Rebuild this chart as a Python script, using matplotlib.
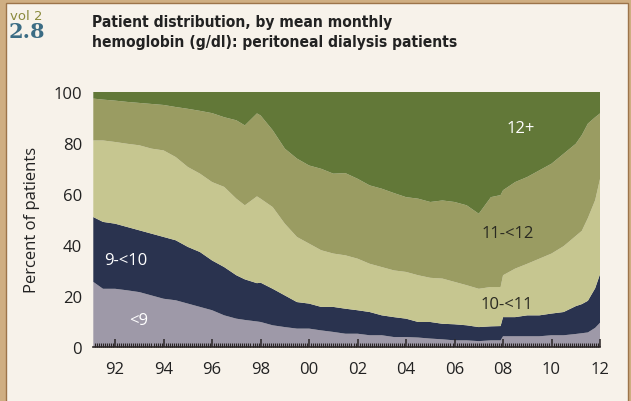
import numpy as np
import matplotlib
matplotlib.use("Agg")
import matplotlib.pyplot as plt
from matplotlib import font_manager
from matplotlib.patches import Rectangle
from matplotlib.ticker import MultipleLocator

# time points (fractional year)
years = [1991.1, 1991.5, 1992.0, 1992.5, 1993.0, 1993.5, 1994.0, 1994.5,
         1995.0, 1995.5, 1996.0, 1996.5, 1997.0, 1997.35, 1997.85, 1998.0,
         1998.5, 1999.0, 1999.5, 2000.0, 2000.5, 2001.0, 2001.5, 2002.0,
         2002.5, 2003.0, 2003.5, 2004.0, 2004.5, 2005.0, 2005.5, 2006.0,
         2006.5, 2007.0, 2007.5, 2007.9, 2008.0, 2008.5, 2009.0, 2009.5,
         2010.0, 2010.5, 2011.0, 2011.25, 2011.5, 2011.8, 2012.0]

# percent of patients per hemoglobin group
hb_lt9 = [25.5, 22.8, 22.8, 22.2, 21.5, 20.2, 18.9, 18.3,
          17.0, 15.7, 14.4, 12.4, 11.1, 10.6, 10.0, 9.8,
          8.5, 7.8, 7.2, 7.2, 6.5, 5.9, 5.2, 5.2,
          4.6, 4.6, 3.9, 3.9, 3.7, 3.3, 3.0, 2.6,
          2.6, 2.3, 2.6, 2.6, 4.2, 4.2, 4.2, 4.2,
          4.6, 4.6, 5.1, 5.4, 5.7, 7.5, 9.5]
hb_9_10 = [25.4, 26.2, 25.5, 24.8, 24.2, 24.2, 24.2, 23.5,
           22.2, 21.5, 19.5, 18.9, 17.0, 15.9, 15.0, 15.4,
           14.3, 12.4, 10.4, 9.8, 9.2, 9.8, 9.8, 9.2,
           9.1, 7.8, 7.8, 7.2, 6.1, 6.5, 6.1, 6.3,
           5.9, 5.5, 5.5, 5.6, 7.5, 7.5, 8.2, 8.2,
           8.5, 9.1, 10.9, 11.4, 12.4, 15.5, 19.0]
hb_10_11 = [30.0, 31.9, 32.0, 32.6, 33.3, 33.3, 33.9, 32.6,
            31.3, 30.7, 30.7, 31.4, 30.0, 29.0, 34.0, 32.9,
            32.0, 28.1, 25.5, 23.5, 22.2, 20.9, 20.9, 20.2,
            18.9, 18.9, 18.3, 18.3, 18.3, 17.3, 17.7, 16.6,
            15.7, 15.0, 15.4, 15.3, 16.4, 19.0, 20.2, 22.2,
            23.5, 25.8, 27.5, 28.7, 32.4, 34.5, 37.3]
hb_11_12 = [16.4, 16.0, 16.2, 16.4, 16.6, 17.5, 17.8, 19.6,
            22.8, 24.6, 27.0, 27.3, 30.7, 31.3, 32.5, 32.6,
            30.1, 29.4, 30.7, 30.6, 31.9, 31.3, 32.2, 31.3,
            30.7, 30.7, 30.3, 29.3, 30.0, 29.7, 30.6, 31.3,
            31.3, 29.4, 35.2, 36.0, 33.3, 33.9, 34.0, 34.6,
            35.2, 36.2, 36.1, 37.5, 37.0, 32.5, 25.7]
hb_12plus = [2.7, 3.1, 3.5, 4.0, 4.4, 4.8, 5.2, 6.0,
             6.7, 7.5, 8.4, 10.0, 11.2, 13.2, 8.5, 9.3,
             15.1, 22.3, 26.2, 28.9, 30.2, 32.1, 31.9, 34.1,
             36.7, 38.0, 39.7, 41.3, 41.9, 43.2, 42.6, 43.2,
             44.5, 47.8, 41.3, 40.5, 38.6, 35.4, 33.4, 30.8,
             28.2, 24.3, 20.4, 17.0, 12.5, 10.0, 8.5]

group_names = ["<9", "9-<10", "10-<11", "11-<12", "12+"]
group_colors = ["#9e99a8", "#2a334f", "#c6c690", "#9a9c62", "#627838"]

tick_years = list(range(1992, 2013, 2))
tick_labels = ["%02d" % (y % 100) for y in tick_years]

title_lines = ["Patient distribution, by mean monthly",
               "hemoglobin (g/dl): peritoneal dialysis patients"]


def narrow_bold_font():
    # prefer a condensed/narrow bold face; fall back to a plain bold sans
    for f in font_manager.fontManager.ttflist:
        name = f.name.lower()
        narrowish = ("narrow" in name or "condensed" in name
                     or f.stretch in ("condensed", "semi-condensed",
                                      "extra-condensed"))
        w = f.weight if isinstance(f.weight, int) else 400
        if narrowish and w >= 600 and "serif" not in name and "mono" not in name:
            return font_manager.FontProperties(fname=f.fname), f.name
    return font_manager.FontProperties(family="Roboto", weight="bold"), "Roboto"


title_font, narrow_family = narrow_bold_font()

fig = plt.figure(figsize=(6.31, 4.02), dpi=100)
fig.patch.set_facecolor("#cfae82")
# cream panel inside the tan frame
fig.patches.append(Rectangle((6 / 631, -0.02), 622 / 631, 1.02 - 4 / 402,
                             transform=fig.transFigure, facecolor="#f7f2ea",
                             edgecolor="#9c744a", linewidth=1.0, zorder=-5))

ax = fig.add_axes([93.3 / 631, 54 / 402, 506.7 / 631, 255.3 / 402])
ax.set_facecolor("#f7f2ea")
ax.stackplot(years, hb_lt9, hb_9_10, hb_10_11, hb_11_12, hb_12plus,
             colors=group_colors, linewidth=0)
ax.set_axisbelow(False)

ax.set_xlim(1991.1, 2012.0)
ax.set_ylim(0, 100)

sans = ["Open Sans", "DejaVu Sans"]
ax.set_xticks(tick_years)
ax.set_xticklabels(tick_labels, family=sans, fontsize=12, color="#222222")
ax.xaxis.set_minor_locator(MultipleLocator(1 / 12))
ax.tick_params(axis="x", which="major", direction="in", length=6, width=1.1,
               color="#2b2626", pad=10)
ax.tick_params(axis="x", which="minor", direction="in", length=3.2, width=0.8,
               color="#2b2626")
ax.set_yticks(range(0, 101, 20))
ax.set_yticklabels([str(v) for v in range(0, 101, 20)], family=sans,
                   fontsize=12, color="#222222")
ax.tick_params(axis="y", length=0, pad=8)
ax.set_ylabel("Percent of patients", family=sans, fontsize=12,
              color="#222222", labelpad=10)

for side in ["top", "right", "left"]:
    ax.spines[side].set_visible(False)
ax.spines["bottom"].set_color("#2b2626")
ax.spines["bottom"].set_linewidth(1.2)
ax.spines["bottom"].set_zorder(5)

# group labels inside the areas
ax.text(2008.74, 85.8, "12+", color="white", fontsize=12, family=sans,
        ha="center", va="center")
ax.text(2008.2, 44.5, "11-<12", color="#2a2a22", fontsize=12, family=sans,
        ha="center", va="center")
ax.text(2008.16, 16.8, "10-<11", color="#2a2a22", fontsize=12, family=sans,
        ha="center", va="center")
ax.text(1992.43, 33.9, "9-<10", color="white", fontsize=12, family=sans,
        ha="center", va="center")
ax.text(1992.95, 10.6, "<9", color="white", fontsize=12, family=sans,
        ha="center", va="center")

# title in two lines, sized so the first line spans about 301 px
t1 = fig.text(92 / 631, 1 - 27 / 402, title_lines[0], fontproperties=title_font,
              color="#222222", ha="left", va="baseline")
t2 = fig.text(92 / 631, 1 - 47 / 402, title_lines[1], fontproperties=title_font,
              color="#222222", ha="left", va="baseline")
t1.set_fontsize(13)
t2.set_fontsize(13)
renderer = fig.canvas.get_renderer()
w1 = t1.get_window_extent(renderer).width
size = 13 * 301 / w1
t1.set_fontsize(size)
t2.set_fontsize(size)

fig.text(10 / 631, 1 - 20 / 402, "vol 2", family=[narrow_family, "DejaVu Sans"],
         fontweight="normal", fontsize=9.5, color="#8a8a3c", ha="left",
         va="baseline")
fig.text(9 / 631, 1 - 38 / 402, "2.8", family=["DejaVu Serif"],
         fontweight="bold", fontsize=15, color="#3b6c84", ha="left",
         va="baseline")

fig.savefig("out.png", dpi=100, facecolor=fig.get_facecolor())
